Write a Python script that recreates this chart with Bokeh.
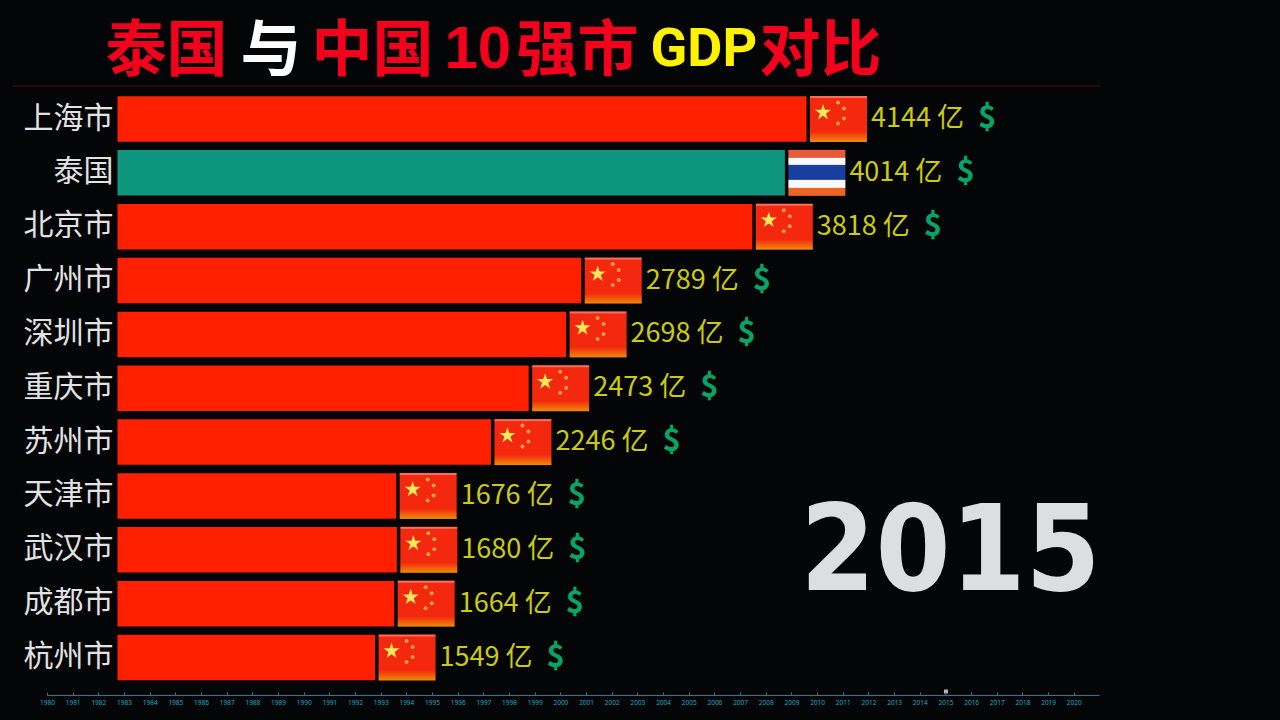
from bokeh.plotting import figure
from bokeh.embed import file_html
from bokeh.resources import INLINE
from bokeh.models import Range1d, LinearAxis, FixedTicker, Label, BoxAnnotation
from bokeh.core.properties import value as V
import numpy as np

names = ["上海市", "泰国", "北京市", "广州市", "深圳市", "重庆市", "苏州市", "天津市", "武汉市", "成都市", "杭州市"]
gdp = [4144, 4014, 3818, 2789, 2698, 2473, 2246, 1676, 1680, 1664, 1549]
is_thai = [n == "泰国" for n in names]
years = list(range(1980, 2021))
current_year = 2015

# layout constants: page px
S = 689 / 4144
RH = 53.85
BG = "#030507"
def X(px): return (px - 117) / S
def Y(py): return (py - 118.5) / RH

p = figure(width=1280, height=720, output_backend="svg", toolbar_location=None,
           x_axis_location=None, y_axis_location=None,
           x_range=Range1d(X(0), X(1280)), y_range=Range1d(Y(695), Y(0)),
           min_border_left=0, min_border_right=0, min_border_top=0, min_border_bottom=25,
           background_fill_color=BG, border_fill_color=BG, outline_line_color=None)
p.grid.visible = False
p.extra_x_ranges["years"] = Range1d(1980 + (0 - 47) / 25.67, 1980 + (1280 - 47) / 25.67)

ax = LinearAxis(x_range_name="years", ticker=FixedTicker(ticks=years), bounds=(1980, 2021),
                axis_line_color="#1b7f9c", axis_line_width=1,
                major_tick_line_color="#1b7f9c", major_tick_in=3, major_tick_out=0,
                minor_tick_line_color=None, major_label_standoff=4,
                major_label_text_color="#22a5c0", major_label_text_font_size="6.5px",
                major_label_text_font="Noto Sans")
p.add_layout(ax, "below")
p.scatter(x=[current_year], y=[Y(691)], x_range_name="years", marker="square", size=4,
          fill_color="#b8b8b8", line_color=None)

# bars
colors = ["#0e957e" if t else "#ff2000" for t in is_thai]
ys = list(range(len(names)))
p.hbar(y=ys, left=0, right=gdp, height=45.5 / RH, fill_color=colors, line_color=None)

# flags
def to_img(a):
    return a.copy().view(np.uint32).reshape(a.shape[:2])

def cn_flag():
    h, w = 46, 57
    a = np.zeros((h, w, 4), dtype=np.uint8)
    a[..., 3] = 255
    for r in range(h):
        c = np.array([244, 40, 14], float)
        if r < 2:
            c = np.array([250, 110, 90], float)
        if r >= 35:
            t = (r - 35) / 10
            c = c * (1 - t) + np.array([240, 135, 10], float) * t
        a[r, :, :3] = c
    return to_img(a)

def th_flag():
    h, w = 46, 57
    a = np.zeros((h, w, 4), dtype=np.uint8)
    a[..., 3] = 255
    for r in range(h):
        if r < 8:
            c = (232, 90, 60)
        elif r < 15:
            c = (250, 250, 250)
        elif r < 30:
            c = (24, 62, 160)
        elif r < 38:
            c = (248, 248, 250)
        else:
            c = (240, 100, 35)
        a[r, :, :3] = c
    return to_img(a)

fw, fh = 57 / S, 46 / RH
flag_x = [g + 3.5 / S for g in gdp]
p.image_rgba(image=[(th_flag() if t else cn_flag()) for t in is_thai],
             x=flag_x, y=[i - fh / 2 for i in ys], dw=[fw] * len(ys), dh=[fh] * len(ys))

# stars on Chinese flags
big_x, big_y = [], []
sm_x, sm_y = [], []
for fx, i, t in zip(flag_x, ys, is_thai):
    if t:
        continue
    big_x.append(fx + 13 / S)
    big_y.append(i - 6.5 / RH)
    for dx, dy in [(28, -16.5), (34, -10.5), (34, -0.5), (28, 4.5)]:
        sm_x.append(fx + dx / S)
        sm_y.append(i + dy / RH)
p.scatter(big_x, big_y, marker="star", size=17, fill_color="#ffe65a", line_color=None)
p.scatter(sm_x, sm_y, marker="circle", size=4, fill_color="#fba040", line_color=None)

# value labels
CJK = V("Noto Sans CJK SC")
p.text(x=[fx + 61 / S for fx in flag_x], y=[i - 3.5 / RH for i in ys], text=[f"{g} 亿" for g in gdp],
       text_font=CJK, text_font_size="27px", text_color="#cccc0c",
       text_baseline="middle", text_align="left")
p.text(x=[fx + 168 / S for fx in flag_x], y=[i - 4.5 / RH for i in ys], text=["$"] * len(ys),
       text_font=CJK, text_font_size="31px", text_font_style="bold", text_color="#06a566",
       text_baseline="middle", text_align="left")

# category labels
p.text(x=[X(113)] * len(ys), y=[i - 4.5 / RH for i in ys], text=names, text_font=CJK, text_font_size="30px",
       text_color="#e2e2e2", text_align="right", text_baseline="middle")

# title pieces
title_parts = [("泰国", 105, 44, "#f4001c", "Noto Sans CJK SC", "61px", "bold"),
               ("与", 240, 44, "#ffffff", "Noto Sans CJK SC", "61px", "bold"),
               ("中国", 311, 44, "#f4001c", "Noto Sans CJK SC", "61px", "bold"),
               ("10", 444, 47, "#f4001c", "Liberation Sans", "60px", "bold"),
               ("强市", 516, 44, "#f4001c", "Noto Sans CJK SC", "61px", "bold"),
               ("GDP", 650, 47, "#fff200", "Roboto", "54px", "bold"),
               ("对比", 759, 44, "#f4001c", "Noto Sans CJK SC", "61px", "bold")]
for txt, px, py, col, fnt, fs, st in title_parts:
    p.add_layout(Label(x=X(px), y=Y(py), text=txt, text_color=col, text_font=fnt,
                       text_font_size=fs, text_font_style=st,
                       text_baseline="middle", text_align="left"))

# title rule
p.add_layout(BoxAnnotation(left=X(12), right=X(1100), top=Y(85), bottom=Y(86),
                           fill_color="#4a0f08", fill_alpha=1, line_color=None))

# year
p.add_layout(Label(x=X(950), y=Y(545.5), text=str(current_year), text_color="#dcdee0",
                   text_font="DejaVu Sans Condensed", text_font_size="120px", text_font_style="bold",
                   text_align="center", text_baseline="middle"))

html = file_html(p, INLINE)
html = html.replace("<head>", "<head><style>html,body{background:#030507}</style>", 1)
open("out.html", "w").write(html)
